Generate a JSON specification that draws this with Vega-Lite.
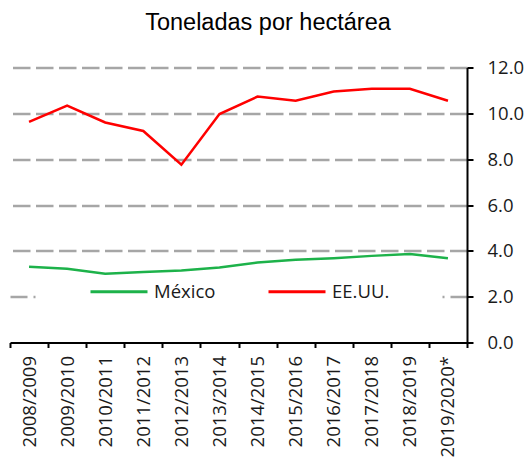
{
  "$schema": "https://vega.github.io/schema/vega-lite/v6.json",
  "width": 457,
  "height": 275,
  "autosize": "none",
  "padding": {"left": 10, "top": 67.5, "right": 61, "bottom": 122.5},
  "background": "white",
  "title": {
    "text": "Toneladas por hectárea",
    "font": "Liberation Sans",
    "fontSize": 23.5,
    "fontWeight": "normal",
    "color": "#000000",
    "anchor": "middle",
    "dx": 29.5,
    "baseline": "alphabetic",
    "offset": 5
  },
  "config": {"view": {"stroke": null}},
  "data": {
    "values": [
      {"campana": "2008/2009", "pais": "México", "valor": 3.31},
      {"campana": "2009/2010", "pais": "México", "valor": 3.22},
      {"campana": "2010/2011", "pais": "México", "valor": 3.0},
      {"campana": "2011/2012", "pais": "México", "valor": 3.08},
      {"campana": "2012/2013", "pais": "México", "valor": 3.14},
      {"campana": "2013/2014", "pais": "México", "valor": 3.27},
      {"campana": "2014/2015", "pais": "México", "valor": 3.49},
      {"campana": "2015/2016", "pais": "México", "valor": 3.61},
      {"campana": "2016/2017", "pais": "México", "valor": 3.68},
      {"campana": "2017/2018", "pais": "México", "valor": 3.78},
      {"campana": "2018/2019", "pais": "México", "valor": 3.86},
      {"campana": "2019/2020*", "pais": "México", "valor": 3.68},
      {"campana": "2008/2009", "pais": "EE.UU.", "valor": 9.63},
      {"campana": "2009/2010", "pais": "EE.UU.", "valor": 10.34},
      {"campana": "2010/2011", "pais": "EE.UU.", "valor": 9.6},
      {"campana": "2011/2012", "pais": "EE.UU.", "valor": 9.23},
      {"campana": "2012/2013", "pais": "EE.UU.", "valor": 7.76},
      {"campana": "2013/2014", "pais": "EE.UU.", "valor": 9.97},
      {"campana": "2014/2015", "pais": "EE.UU.", "valor": 10.73},
      {"campana": "2015/2016", "pais": "EE.UU.", "valor": 10.55},
      {"campana": "2016/2017", "pais": "EE.UU.", "valor": 10.95},
      {"campana": "2017/2018", "pais": "EE.UU.", "valor": 11.07},
      {"campana": "2018/2019", "pais": "EE.UU.", "valor": 11.07},
      {"campana": "2019/2020*", "pais": "EE.UU.", "valor": 10.55}
    ]
  },
  "mark": {"type": "line", "strokeWidth": 2.5},
  "encoding": {
    "x": {
      "field": "campana",
      "type": "ordinal",
      "sort": null,
      "scale": {"type": "band", "paddingInner": 0, "paddingOuter": 0},
      "axis": {
        "title": null,
        "labelAngle": -90,
        "labelFont": "Open Sans",
        "labelFontSize": 18.5,
        "labelColor": "#1a1a1a",
        "domainColor": "#000000",
        "domainWidth": 2,
        "tickColor": "#000000",
        "tickWidth": 2,
        "tickSize": 5,
        "tickBand": "extent",
        "labelPadding": 8,
        "grid": false,
        "zindex": 1
      }
    },
    "y": {
      "field": "valor",
      "type": "quantitative",
      "scale": {"domain": [0, 12], "nice": false, "zero": true},
      "axis": {
        "orient": "right",
        "title": null,
        "values": [0, 2, 4, 6, 8, 10, 12],
        "format": ".1f",
        "grid": true,
        "gridColor": "#a6a6a6",
        "gridWidth": 2.5,
        "gridDash": {"condition": {"test": "datum.value === 2", "value": [17, 6, 2, 407, 2, 6, 17]}, "value": [17.5, 5.5]},
        "gridOpacity": {"condition": {"test": "datum.value === 0", "value": 0}, "value": 1},
        "domainColor": "#000000",
        "domainWidth": 2,
        "tickColor": "#000000",
        "tickWidth": 2,
        "tickSize": 6,
        "labelPadding": 14,
        "labelFont": "Open Sans",
        "labelFontSize": 18.5,
        "labelColor": "#1a1a1a"
      }
    },
    "color": {
      "field": "pais",
      "type": "nominal",
      "scale": {"domain": ["México", "EE.UU."], "range": ["#1db24a", "#ff0000"]},
      "legend": {
        "title": null,
        "orient": "none",
        "legendX": 79,
        "legendY": 194,
        "direction": "horizontal",
        "symbolType": "stroke",
        "symbolSize": 3249,
        "symbolStrokeWidth": 3,
        "labelFont": "Open Sans",
        "labelFontSize": 18.5,
        "labelColor": "#1a1a1a",
        "labelOffset": 5,
        "columnPadding": 46,
        "padding": 0
      }
    }
  }
}
